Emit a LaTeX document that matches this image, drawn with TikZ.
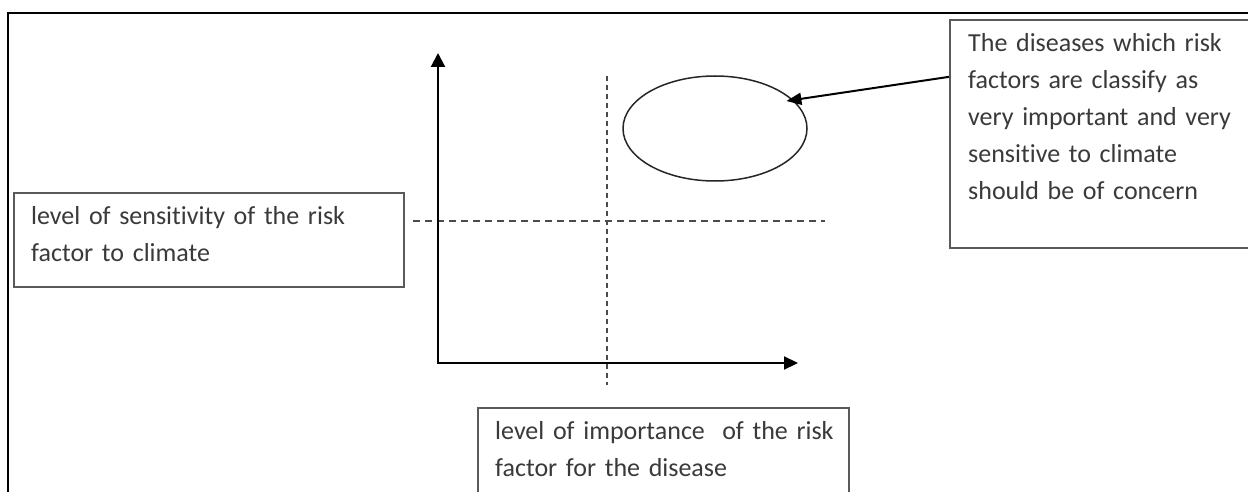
\documentclass[tikz,border=0pt]{standalone}
\usepackage{fontspec}
\setmainfont{Carlito}[Ligatures=NoCommon]
\usetikzlibrary{arrows.meta,shapes.geometric}
\definecolor{boxgray}{RGB}{90,90,90}
\definecolor{txtgray}{RGB}{58,58,58}
\definecolor{dashgray}{RGB}{75,75,75}
\begin{document}
\begin{tikzpicture}[x=1pt,y=-1pt,
  frameline/.style={line width=2.4pt, black},
  boxr/.style={draw=boxgray, line width=1.7pt, rectangle, inner sep=0pt, anchor=north west},
  txt/.style={text=txtgray, font=\fontsize{26}{37}\selectfont, inner sep=0pt, anchor=north west, align=left},
  axisline/.style={line width=2.2pt, black, {Triangle[length=14pt,width=14pt]}-{Triangle[length=14pt,width=13pt]}},
  hguide/.style={dashgray, line width=1.8pt, dash pattern=on 7pt off 5pt},
  vguide/.style={dashgray, line width=1.8pt, dash pattern=on 5pt off 4pt},
  pointer/.style={line width=2pt, black, -{Triangle[length=15pt,width=12pt]}},
  blob/.style={ellipse, draw=black!85, line width=1.5pt, minimum width=184pt, minimum height=105pt, inner sep=0pt}
]
\useasboundingbox (0,0) rectangle (1248,492);
\fill[white] (0,0) rectangle (1248,492);

% outer frame (cropped at right and bottom)
\coordinate (fbl) at (8,520);
\coordinate (ftl) at (8,13);
\coordinate (ftr) at (1270,13);
\draw[frameline] (fbl) -- (ftl) -- (ftr);

% boxes
\node[boxr, minimum width=390pt, minimum height=94pt] (sensbox) at (13,192) {};
\node[txt, text width=370pt] (senstxt) at (31,198) {\rule{0pt}{26pt}level of sensitivity of the risk\\factor to climate};

\node[boxr, minimum width=330pt, minimum height=228pt] (rbox) at (949,19) {};
\node[txt, text width=290pt] (rtxt) at (968,25) {\rule{0pt}{26pt}The diseases which risk\\factors are classify as\\very important and very\\sensitive to climate\\should be of concern};

\node[boxr, minimum width=371pt, minimum height=120pt] (ibox) at (477,407) {};
\node[txt, text width=350pt] (itxt) at (495,413) {\rule{0pt}{26pt}level of importance\ \ of the risk\\factor for the disease};

% guides
\coordinate (hl) at (413,221);
\coordinate (hr) at (825,221);
\coordinate (vt) at (607,76);
\coordinate (vb) at (607,385);
\draw[hguide] (hl) -- (hr);
\draw[vguide] (vt) -- (vb);

% axes
\coordinate (origin) at (438,363);
\coordinate (ytop) at (438,53);
\coordinate (xend) at (798,363);
\draw[axisline] (ytop) -- (origin) -- (xend);

% ellipse and pointer
\node[blob] (ell) at (715,128.5) {};
\draw[pointer, shorten >=-7pt] ([yshift=57pt]rbox.west) -- (ell.20);
\end{tikzpicture}
\end{document}
